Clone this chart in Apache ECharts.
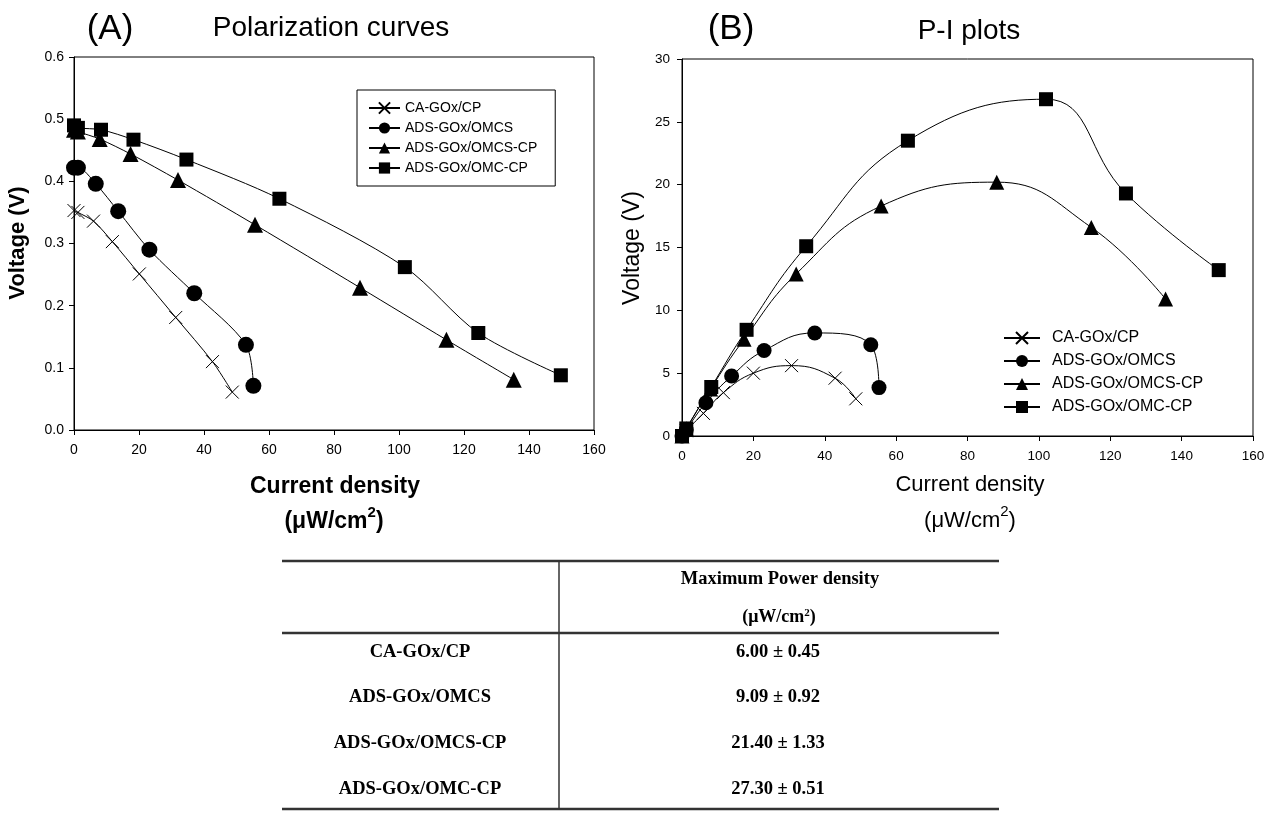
<!DOCTYPE html>
<html><head><meta charset="utf-8">
<script src="https://cdn.jsdelivr.net/npm/echarts@6/dist/echarts.min.js"></script>
<style>html,body{margin:0;padding:0;background:#fff}#c{width:1277px;height:824px}</style>
</head><body><div id="c"></div>
<script>
// ---------- data ----------
const seriesNames = ['CA-GOx/CP', 'ADS-GOx/OMCS', 'ADS-GOx/OMCS-CP', 'ADS-GOx/OMC-CP'];

// (A) Polarization curves: [current density, voltage]
const polCA      = [[0,0.353],[1.2,0.350],[6.0,0.336],[11.8,0.303],[20.1,0.251],[31.3,0.181],[42.6,0.110],[48.7,0.061]];
const polOMCS    = [[0,0.422],[1.2,0.422],[6.7,0.396],[13.6,0.352],[23.2,0.290],[37.0,0.220],[52.9,0.137],[55.2,0.071]];
const polOMCSCP  = [[0,0.483],[1.2,0.480],[7.9,0.468],[17.4,0.444],[32.0,0.402],[55.7,0.330],[88.0,0.229],[114.6,0.145],[135.3,0.081]];
const polOMCCP   = [[0,0.490],[1.2,0.486],[8.3,0.483],[18.3,0.467],[34.6,0.435],[63.2,0.372],[101.8,0.262],[124.4,0.156],[149.8,0.088]];

// (B) P-I plots: [current density, value]
const piCA       = [[0,0],[1.2,0.42],[6.0,1.8],[11.6,3.45],[20.0,5.0],[30.7,5.6],[42.9,4.6],[48.7,2.96]];
const piOMCS     = [[0,0],[1.2,0.5],[6.7,2.65],[13.9,4.77],[23.0,6.8],[37.2,8.2],[52.9,7.26],[55.2,3.85]];
const piOMCSCP   = [[0,0],[1.2,0.58],[8.0,3.75],[17.4,7.7],[32.0,12.9],[55.8,18.3],[88.2,20.2],[114.7,16.6],[135.5,10.9]];
const piOMCCP    = [[0,0],[1.2,0.6],[8.2,3.9],[18.1,8.45],[34.8,15.1],[63.3,23.5],[102.0,26.8],[124.4,19.3],[150.4,13.2]];

// axes
const xMin = 0, xMax = 160, xStep = 20;
const yAMin = 0, yAMax = 0.6, yAStep = 0.1;
const yBMin = 0, yBMax = 30, yBStep = 5;

// table
const tableHeader = 'Maximum Power density';
const tableRows   = ['CA-GOx/CP', 'ADS-GOx/OMCS', 'ADS-GOx/OMCS-CP', 'ADS-GOx/OMC-CP'];
const tableValues = ['6.00 ± 0.45', '9.09 ± 0.92', '21.40 ± 1.33', '27.30 ± 0.51'];

// ---------- styling ----------
const SANS = "'Liberation Sans', Arial, sans-serif";
const SERIF = "'Liberation Serif', 'Times New Roman', serif";
const symbols = ['path://M0,0L10,10M10,0L0,10', 'circle', 'triangle', 'rect'];
const sizesA = [13, 16, 16, 14];
const sizesB = [13, 15, 15, 14];
const polData = [polCA, polOMCS, polOMCSCP, polOMCCP];
const piData = [piCA, piOMCS, piOMCSCP, piOMCCP];

function mkSeries(data, axis, sizes, smooth) {
  return data.map((d, i) => ({
    name: seriesNames[i], type: 'line', xAxisIndex: axis, yAxisIndex: axis,
    data: d, smooth: smooth, symbol: symbols[i], symbolSize: sizes[i], showAllSymbol: true,
    lineStyle: { color: '#000', width: 1 },
    itemStyle: i === 0 ? { color: '#000', borderColor: '#000', borderWidth: 1 } : { color: '#000' },
    emphasis: { disabled: true }, z: 2 + i
  }));
}

function axisCommon(fs, margin, fmt) {
  return {
    axisLine: { show: true, lineStyle: { color: '#000', width: 1 } },
    axisTick: { show: true, inside: false, length: 5, lineStyle: { color: '#000' } },
    splitLine: { show: false },
    axisLabel: Object.assign({ color: '#000', fontSize: fs, fontFamily: SANS, margin: margin }, fmt ? { formatter: fmt } : {})
  };
}

const graphics = [];
function txt(x, y, text, fs, opts) {
  opts = opts || {};
  graphics.push({
    type: 'text', x: x, y: y, rotation: opts.rotation || 0,
    style: Object.assign({ text: text, fontSize: fs, fontFamily: opts.family || SANS,
      fontWeight: opts.weight || 'normal', fill: '#000', align: 'center', verticalAlign: 'middle' },
      opts.rich ? { rich: opts.rich } : {})
  });
}
function line(x1, y1, x2, y2, w, c) {
  graphics.push({ type: 'line', shape: { x1: x1, y1: y1, x2: x2, y2: y2 }, style: { stroke: c || '#333', lineWidth: w } });
}
function unitRich(fs, sfs, weight, family, raise) {
  return {
    a: { fontSize: fs, fontWeight: weight, fontFamily: family, verticalAlign: 'bottom' },
    s: { fontSize: sfs, fontWeight: weight, fontFamily: family, verticalAlign: 'bottom', padding: [0, 0, raise, 0] }
  };
}

// titles
txt(110, 29, '(A)', 35);
txt(331, 28, 'Polarization curves', 28);
txt(731, 29, '(B)', 35);
txt(969, 31, 'P-I plots', 28);
// axis names
txt(18, 243, 'Voltage (V)', 22, { weight: 'bold', rotation: Math.PI / 2 });
txt(633, 248, 'Voltage (V)', 23, { rotation: Math.PI / 2 });
txt(335, 487, 'Current density', 23, { weight: 'bold' });
txt(334, 519, '{a|(μW/cm}{s|2}{a|)}', 23, { weight: 'bold', rich: unitRich(23, 15, 'bold', SANS, 13) });
txt(970, 485, 'Current density', 22);
txt(970, 518, '{a|(μW/cm}{s|2}{a|)}', 22, { rich: unitRich(22, 15, 'normal', SANS, 13) });

// table
line(282, 561, 999, 561, 2.5);
line(282, 633, 999, 633, 2.5);
line(282, 809, 999, 809, 2.5);
line(559, 561, 559, 809, 1.5);
txt(780, 579, tableHeader, 18.5, { family: SERIF, weight: 'bold' });
txt(779, 617, '{a|(μW/cm}{s|2}{a|)}', 18, { family: SERIF, weight: 'bold', rich: unitRich(18, 11, 'bold', SERIF, 8) });
const rowY = [652, 697, 743, 789];
tableRows.forEach((r, i) => {
  txt(420, rowY[i], r, 18.5, { family: SERIF, weight: 'bold' });
  txt(778, rowY[i], tableValues[i], 18.5, { family: SERIF, weight: 'bold' });
});

const chart = echarts.init(document.getElementById('c'), null, { renderer: 'canvas' });
chart.setOption({
  animation: false,
  backgroundColor: '#fff',
  grid: [
    { left: 74, top: 57, width: 520, height: 373, show: true, borderColor: '#000', borderWidth: 1, backgroundColor: 'transparent' },
    { left: 682, top: 59, width: 571, height: 377, show: true, borderColor: '#000', borderWidth: 1, backgroundColor: 'transparent' }
  ],
  xAxis: [
    Object.assign(axisCommon(14, 13), { type: 'value', gridIndex: 0, min: xMin, max: xMax, interval: xStep }),
    Object.assign(axisCommon(13.5, 13), { type: 'value', gridIndex: 1, min: xMin, max: xMax, interval: xStep })
  ],
  yAxis: [
    Object.assign(axisCommon(14, 10, v => v.toFixed(1)), { type: 'value', gridIndex: 0, min: yAMin, max: yAMax, interval: yAStep }),
    Object.assign(axisCommon(13.5, 12), { type: 'value', gridIndex: 1, min: yBMin, max: yBMax, interval: yBStep })
  ],
  legend: [
    { data: seriesNames, orient: 'vertical', left: 357, top: 90, borderColor: '#000', borderWidth: 1,
      padding: [11, 18, 11, 11], itemWidth: 31, itemHeight: 14, itemGap: 6, selectedMode: false,
      textStyle: { fontSize: 14, fontFamily: SANS, color: '#000' } },
    { data: seriesNames, orient: 'vertical', left: 1003, top: 330, padding: 0,
      itemWidth: 36, itemHeight: 15, itemGap: 7, selectedMode: false,
      textStyle: { fontSize: 16, fontFamily: SANS, color: '#000', padding: [0, 0, 0, 7] } }
  ],
  series: mkSeries(polData, 0, sizesA, 0.3).concat(mkSeries(piData, 1, sizesB, 0.45)),
  graphic: graphics
});
</script></body></html>
